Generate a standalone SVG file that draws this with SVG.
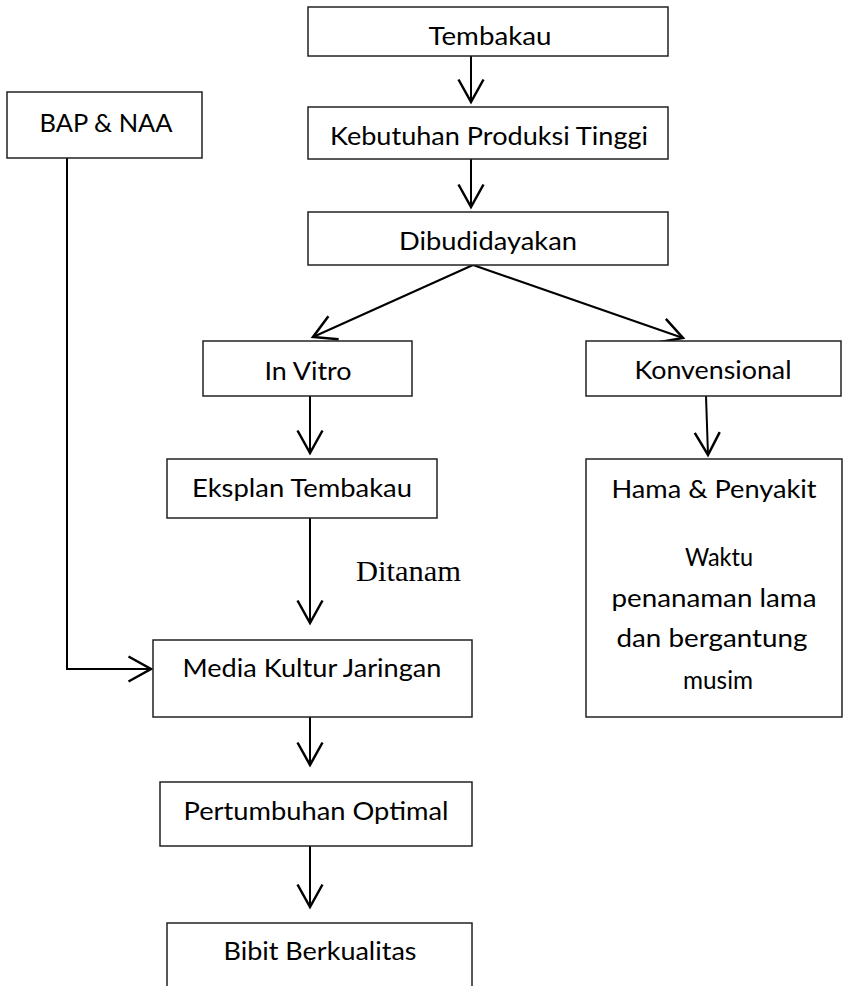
<svg xmlns="http://www.w3.org/2000/svg" width="843" height="986" viewBox="0 0 843 986">
<style>
.box{fill:#fff;stroke:#222;stroke-width:1.5}
.t{font-family:"Lato","Open Sans","Liberation Sans",sans-serif;font-size:25px;fill:#000;text-anchor:middle}
.s{font-family:"Liberation Serif","DejaVu Serif",serif;font-size:29px;fill:#000}
.c{fill:none;stroke:#000;stroke-width:2}
</style>
<defs>
<marker id="ah" markerUnits="userSpaceOnUse" markerWidth="30" markerHeight="30" viewBox="-20 -12 22 24" refX="0" refY="0" orient="auto" overflow="visible">
<path d="M-18,-10 L0,0 L-18,10" fill="none" stroke="#000" stroke-width="2"/>
</marker>
</defs>
<rect width="843" height="986" fill="#fff"/>
<g id="connectors">
<path class="c" d="M471,56 L471,102" marker-end="url(#ah)"/>
<path class="c" d="M471,159 L471,207" marker-end="url(#ah)"/>
<path class="c" d="M473,265 L313,337" marker-end="url(#ah)"/>
<path class="c" d="M473,265 L683,338" marker-end="url(#ah)"/>
<path class="c" d="M310,396 L310,453" marker-end="url(#ah)"/>
<path class="c" d="M706,396 L708,455" marker-end="url(#ah)"/>
<path class="c" d="M310,518 L310,623" marker-end="url(#ah)"/>
<path class="c" d="M67,158 L67,669 L151,669" marker-end="url(#ah)"/>
<path class="c" d="M310,717 L310,765" marker-end="url(#ah)"/>
<path class="c" d="M310,846 L310,907" marker-end="url(#ah)"/>
<text class="s" x="356" y="581" textLength="105" lengthAdjust="spacingAndGlyphs">Ditanam</text>
</g>
<g id="tembakau"><rect class="box" x="308" y="7" width="360" height="49"/><text class="t" x="490" y="45" textLength="123" lengthAdjust="spacingAndGlyphs">Tembakau</text></g>
<g id="kebutuhan"><rect class="box" x="308" y="107" width="360" height="52"/><text class="t" x="489" y="145" textLength="318" lengthAdjust="spacingAndGlyphs">Kebutuhan Produksi Tinggi</text></g>
<g id="dibudidayakan"><rect class="box" x="308" y="212" width="360" height="53"/><text class="t" x="488" y="250" textLength="178" lengthAdjust="spacingAndGlyphs">Dibudidayakan</text></g>
<g id="bap"><rect class="box" x="7" y="92" width="195" height="66"/><text class="t" x="106" y="132" textLength="133" lengthAdjust="spacingAndGlyphs">BAP &amp; NAA</text></g>
<g id="invitro"><rect class="box" x="203" y="341" width="209" height="55"/><text class="t" x="308" y="380" textLength="87" lengthAdjust="spacingAndGlyphs">In Vitro</text></g>
<g id="konvensional"><rect class="box" x="586" y="341" width="255" height="55"/><text class="t" x="713" y="379" textLength="157" lengthAdjust="spacingAndGlyphs">Konvensional</text></g>
<g id="eksplan"><rect class="box" x="167" y="459" width="270" height="59"/><text class="t" x="302" y="497" textLength="220" lengthAdjust="spacingAndGlyphs">Eksplan Tembakau</text></g>
<g id="media"><rect class="box" x="153" y="640" width="319" height="77"/><text class="t" x="312" y="677" textLength="259" lengthAdjust="spacingAndGlyphs">Media Kultur Jaringan</text></g>
<g id="hama"><rect class="box" x="586" y="459" width="256" height="258"/>
<text class="t" x="714" y="498" textLength="205" lengthAdjust="spacingAndGlyphs">Hama &amp; Penyakit</text>
<text class="t" x="719" y="566" textLength="68" lengthAdjust="spacingAndGlyphs">Waktu</text>
<text class="t" x="714" y="607" textLength="205" lengthAdjust="spacingAndGlyphs">penanaman lama</text>
<text class="t" x="712" y="647" textLength="191" lengthAdjust="spacingAndGlyphs">dan bergantung</text>
<text class="t" x="718" y="689" textLength="70" lengthAdjust="spacingAndGlyphs">musim</text>
</g>
<g id="pertumbuhan"><rect class="box" x="160" y="782" width="312" height="64"/><text class="t" x="316" y="820" textLength="265" lengthAdjust="spacingAndGlyphs">Pertumbuhan Optimal</text></g>
<g id="bibit"><rect class="box" x="167" y="923" width="305" height="70"/><text class="t" x="320" y="960" textLength="193" lengthAdjust="spacingAndGlyphs">Bibit Berkualitas</text></g>
</svg>
